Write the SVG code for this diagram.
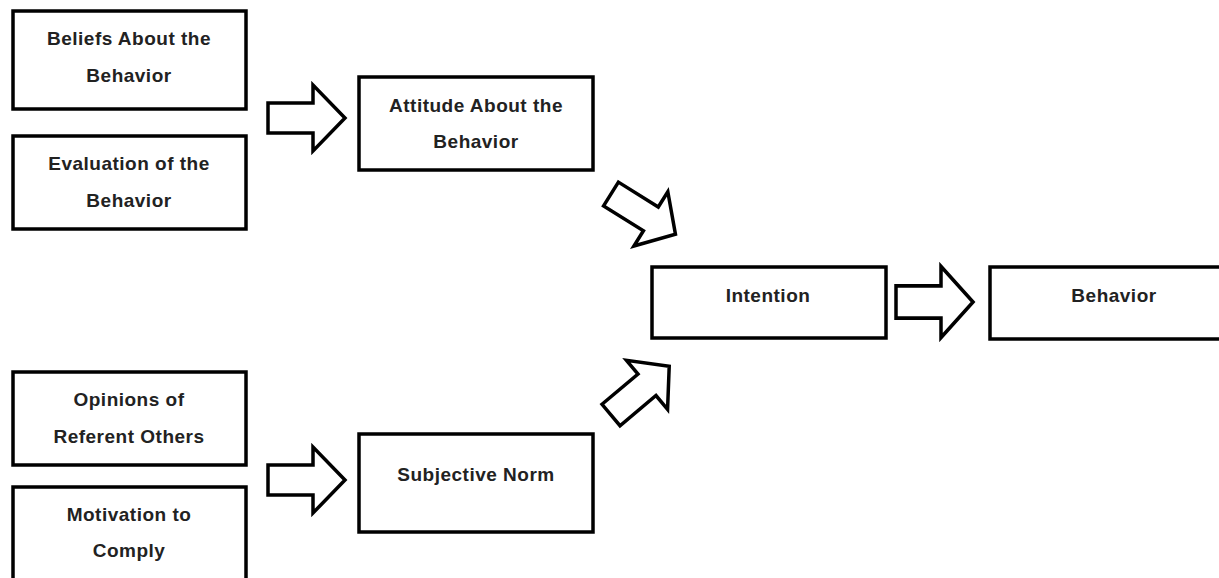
<svg xmlns="http://www.w3.org/2000/svg" width="1219" height="578" viewBox="0 0 1219 578">
<style>
.box{fill:#fff;stroke:#000;stroke-width:3.5}
.t{font-family:"Liberation Sans",Arial,sans-serif;font-weight:bold;font-size:19px;letter-spacing:0.5px;fill:#222;text-anchor:middle}
.arr{fill:#fff;stroke:#000;stroke-width:3.5;stroke-linejoin:miter}
</style>
<defs>
<path id="ba" d="M0,-15 H45 V-33 L77,0 L45,33 V15 H0 Z"/>
<path id="bd" d="M0,-14 H47 V-32 L76,0 L47,32 V14 H0 Z"/>
</defs>
<rect width="1219" height="578" fill="#fff"/>
<g id="beliefs"><rect class="box" x="13" y="11" width="233" height="98"/><text class="t" x="129" y="45">Beliefs About the</text><text class="t" x="129" y="82">Behavior</text></g>
<g id="evaluation"><rect class="box" x="13" y="136" width="233" height="93"/><text class="t" x="129" y="170">Evaluation of the</text><text class="t" x="129" y="207">Behavior</text></g>
<g id="attitude"><rect class="box" x="359" y="77" width="234" height="93"/><text class="t" x="476" y="112">Attitude About the</text><text class="t" x="476" y="148">Behavior</text></g>
<g id="intention"><rect class="box" x="652" y="267" width="234" height="71"/><text class="t" x="768" y="302">Intention</text></g>
<g id="behavior"><rect class="box" x="990" y="267" width="235" height="72"/><text class="t" x="1114" y="302">Behavior</text></g>
<g id="opinions"><rect class="box" x="13" y="372" width="233" height="93"/><text class="t" x="129" y="406">Opinions of</text><text class="t" x="129" y="443">Referent Others</text></g>
<g id="motivation"><rect class="box" x="13" y="487" width="233" height="100"/><text class="t" x="129" y="521">Motivation to</text><text class="t" x="129" y="557">Comply</text></g>
<g id="subjective"><rect class="box" x="359" y="434" width="234" height="98"/><text class="t" x="476" y="481">Subjective Norm</text></g>
<g id="connectors">
<use href="#ba" class="arr" transform="translate(268,118)"/>
<use href="#ba" class="arr" transform="translate(268,480)"/>
<use href="#ba" class="arr" transform="translate(896,302) scale(1,1.08)"/>
<use href="#bd" class="arr" transform="translate(611,194) rotate(32)"/>
<use href="#bd" class="arr" transform="translate(611,415) rotate(-40)"/>
</g>
</svg>
